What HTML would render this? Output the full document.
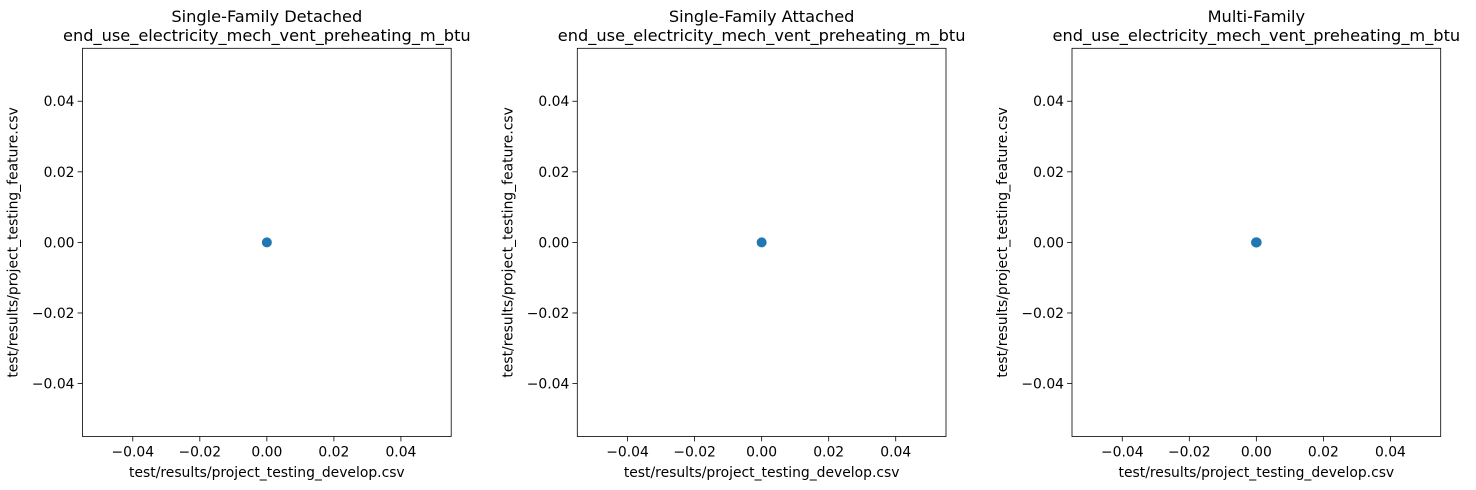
<!DOCTYPE html>
<html><head><meta charset="utf-8"><style>
body{margin:0;background:#fff;}
svg{display:block;font-family:"DejaVu Sans","Liberation Sans",sans-serif;}
</style></head><body>
<svg id="fig" width="1476" height="490" viewBox="0 0 1476 490"></svg>
<script>
const panelTitles = ["Single-Family Detached", "Single-Family Attached", "Multi-Family"];
const metricName = "end_use_electricity_mech_vent_preheating_m_btu";
const xLabel = "test/results/project_testing_develop.csv";
const yLabel = "test/results/project_testing_feature.csv";
const tickValues = [-0.04, -0.02, 0.00, 0.02, 0.04];
const tickLabels = ["\u22120.04", "\u22120.02", "0.00", "0.02", "0.04"];
const axisMin = -0.055, axisMax = 0.055;
const sfdX = [0], sfdY = [0];
const sfaX = [0], sfaY = [0];
const mfX = [0, 0, 0.0001, -0.0001], mfY = [0, 0, 0, 0];
const seriesX = [sfdX, sfaX, mfX], seriesY = [sfdY, sfaY, mfY];

const NS = "http://www.w3.org/2000/svg";
const svgEl = document.getElementById('fig');
function mk(tag, attrs, parent){const e=document.createElementNS(NS,tag);for(const k in attrs)e.setAttribute(k,attrs[k]);(parent||svgEl).appendChild(e);return e;}
const lefts = [82.5, 577.3, 1072];
const plotW = 368.7, plotTop = 48.3, plotBottom = 436.5;
panelTitles.forEach((t, i) => {
  const L = lefts[i], R = L + plotW;
  const g = mk('g', {});
  
  
  const xs = v => L + (v - axisMin) / (axisMax - axisMin) * plotW;
  const ys = v => plotBottom - (v - axisMin) / (axisMax - axisMin) * (plotBottom - plotTop);
  const cx = (L + R) / 2;
  const tt = mk('text', {x: cx, y: 22, 'text-anchor': 'middle', 'font-size': 16.2, fill: '#000'}, g);
  tt.textContent = t;
  
  
  const t2 = mk('text', {x: cx, y: 41, 'text-anchor': 'middle', 'font-size': 16.2, fill: '#000'}, g);
  t2.textContent = metricName;
  
  
  tickValues.forEach((v, k) => {
    const x = xs(v), y = ys(v);
    mk('line', {x1: x, x2: x, y1: plotBottom, y2: plotBottom + 4.9, stroke: '#000', 'stroke-width': 0.8}, g);
    const lx = mk('text', {x: x, y: plotBottom + 20, 'text-anchor': 'middle', 'font-size': 13.9}, g);
    lx.textContent = tickLabels[k];
    
    
    mk('line', {x1: L - 4.9, x2: L, y1: y, y2: y, stroke: '#000', 'stroke-width': 0.8}, g);
    const ly = mk('text', {x: L - 8, y: y + 5, 'text-anchor': 'end', 'font-size': 13.9}, g);
    ly.textContent = tickLabels[k];
    
    
  });
  const xl = mk('text', {x: cx, y: 477, 'text-anchor': 'middle', 'font-size': 13.9}, g);
  xl.textContent = xLabel;
  
  
  const yx = L - 65, yy = (plotTop + plotBottom) / 2;
  const yl = mk('text', {x: yx, y: yy, 'text-anchor': 'middle', 'font-size': 13.9, transform: `rotate(-90 ${yx} ${yy})`}, g);
  yl.textContent = yLabel;
  
  
  seriesX[i].forEach((xv, k) => {
    const c = mk('circle', {cx: xs(xv), cy: ys(seriesY[i][k]), r: 5, fill: '#1f77b4'}, g);
    
    
  });
  const fr = mk('rect', {x: L, y: plotTop, width: plotW, height: plotBottom - plotTop, fill: 'none', stroke: '#000', 'stroke-width': 0.8}, g);
  
  
});
</script>
</body></html>
